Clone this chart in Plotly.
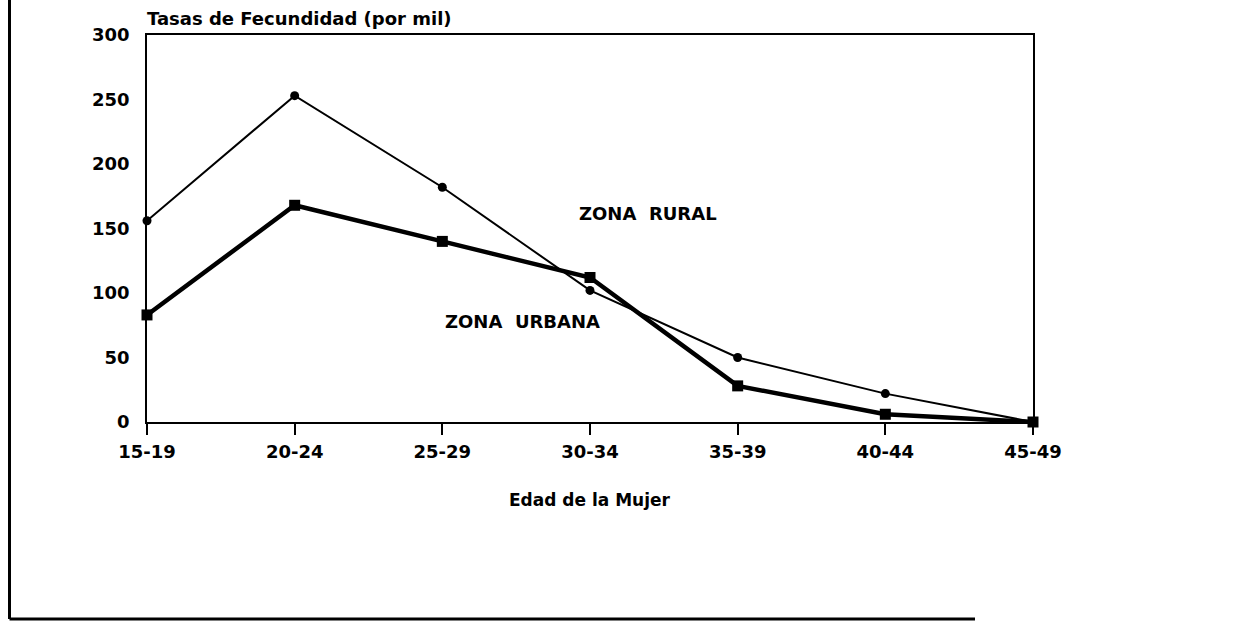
import plotly.graph_objects as go

# datos
edades = ['15-19', '20-24', '25-29', '30-34', '35-39', '40-44', '45-49']
tasa_rural = [156, 253, 182, 102, 50, 22, 0]
tasa_urbana = [83, 168, 140, 112, 28, 6, 0]
y_ticks = [0, 50, 100, 150, 200, 250, 300]

W, H = 1254, 621
ML, MR, MT, MB = 147, 221, 35, 199
PW, PH = W - ML - MR, H - MT - MB

def px_x(x):
    return (x - ML) / PW

def px_y(y):
    return (H - MB - y) / PH

fuente = dict(family='DejaVu Sans', size=18, color='black', weight='bold')

fig = go.Figure()

fig.add_trace(go.Scatter(
    x=edades, y=tasa_rural, mode='lines+markers', name='Zona rural',
    line=dict(color='black', width=2),
    marker=dict(symbol='circle', size=9, color='black'),
    cliponaxis=False
))

fig.add_trace(go.Scatter(
    x=edades, y=tasa_urbana, mode='lines+markers', name='Zona urbana',
    line=dict(color='black', width=4.5),
    marker=dict(symbol='square', size=11, color='black'),
    cliponaxis=False
))

fig.update_layout(
    width=W, height=H,
    margin=dict(l=ML, r=MR, t=MT, b=MB),
    paper_bgcolor='white', plot_bgcolor='white',
    showlegend=False,
    font=fuente,
    xaxis=dict(
        range=[0, 6], showgrid=False, zeroline=False,
        showline=True, linecolor='black', linewidth=1.5, mirror=True,
        ticks='outside', ticklen=11, tickwidth=1.5, tickcolor='black',
        ticklabelstandoff=2, tickfont=fuente
    ),
    yaxis=dict(
        range=[0, 300], tickvals=y_ticks, showgrid=False, zeroline=False,
        showline=True, linecolor='black', linewidth=1.5, mirror=True,
        ticks='', ticklabelstandoff=12, tickfont=fuente
    ),
    annotations=[
        dict(text='Tasas de Fecundidad (por mil)', xref='paper', yref='paper',
             x=px_x(145), y=px_y(18), xanchor='left', yanchor='middle',
             showarrow=False, font=fuente),
        dict(text='Edad de la Mujer', xref='paper', yref='paper',
             x=px_x(590), y=px_y(500), xanchor='center', yanchor='middle',
             showarrow=False, font=dict(fuente, size=17)),
        dict(text='ZONA\u00a0 RURAL', x=3.39, y=162, xanchor='center',
             yanchor='middle', showarrow=False, font=fuente),
        dict(text='ZONA\u00a0 URBANA', x=2.54, y=78, xanchor='center',
             yanchor='middle', showarrow=False, font=fuente),
    ],
    shapes=[
        # marco exterior (solo izquierda y abajo)
        dict(type='line', xref='paper', yref='paper',
             x0=px_x(9.5), x1=px_x(9.5), y0=px_y(0), y1=px_y(619),
             line=dict(color='black', width=3)),
        dict(type='line', xref='paper', yref='paper',
             x0=px_x(9.5), x1=px_x(975), y0=px_y(619), y1=px_y(619),
             line=dict(color='black', width=3)),
    ]
)

# sin margen del body para que la figura ocupe la ventana
fig.write_html('out.html', config={'displayModeBar': False},
               post_script="document.body.style.margin='0';")
